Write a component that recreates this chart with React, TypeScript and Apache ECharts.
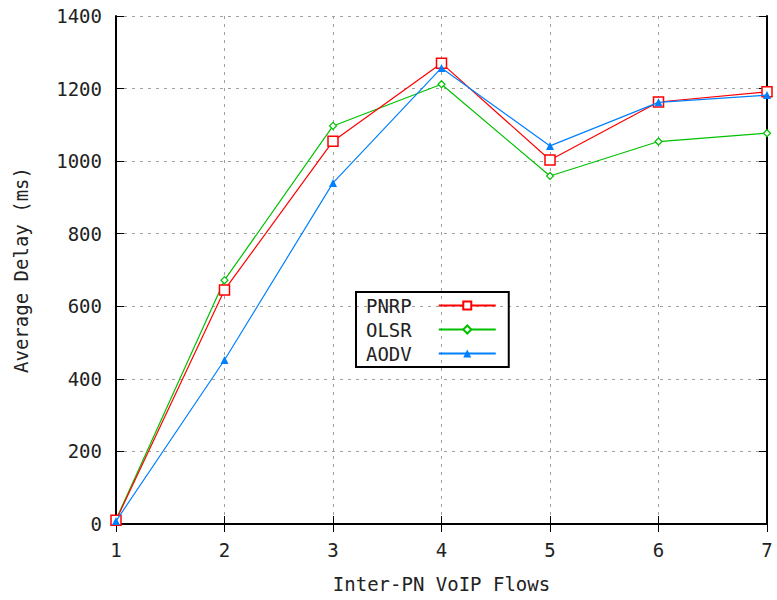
import React, { useEffect, useRef } from "react";
import * as echarts from "echarts";

const flows = ["1", "2", "3", "4", "5", "6", "7"];
const pnrp = [10, 645, 1055, 1270, 1003, 1163, 1191];
const olsr = [12, 672, 1097, 1212, 959, 1054, 1077];
const aodv = [8, 452, 940, 1257, 1042, 1162, 1182];
const yTicks = { min: 0, max: 1400, interval: 200 };

const FONT = "DejaVu Sans Mono";

export default function App() {
  const ref = useRef<HTMLDivElement>(null);
  useEffect(() => {
    const chart = echarts.init(ref.current!, null, { renderer: "svg" });
    const grid = { color: "#a0a0a0", type: [3, 5] as number[], width: 1 };
    const label = { fontFamily: FONT, fontSize: 19, color: "#222" };
    chart.setOption({
      animation: false,
      backgroundColor: "#fff",
      grid: { left: 116, right: 10, top: 16, bottom: 76 },
      legend: {
        orient: "vertical",
        left: 356,
        top: 292,
        align: "right",
        borderColor: "#000",
        borderWidth: 2,
        padding: [4, 12, 4, 10],
        itemGap: 5,
        itemWidth: 57,
        itemHeight: 10,
        textStyle: { ...label, padding: [0, 22, 0, 0], lineHeight: 19 },
        data: ["PNRP", "OLSR", "AODV"],
      },
      xAxis: [
        {
          type: "category",
          data: flows,
          boundaryGap: false,
          name: "Inter-PN VoIP Flows",
          nameLocation: "middle",
          nameGap: 50,
          nameTextStyle: label,
          axisLine: { lineStyle: { color: "#000", width: 2 } },
          axisTick: { inside: true, length: 8, lineStyle: { color: "#000" } },
          axisLabel: { ...label, margin: 16 },
          splitLine: { show: true, lineStyle: grid },
        },
        {
          type: "category",
          data: flows,
          boundaryGap: false,
          position: "top",
          axisLine: { lineStyle: { color: "#000", width: 2 } },
          axisTick: { inside: true, length: 8, lineStyle: { color: "#000" } },
          axisLabel: { show: false },
          splitLine: { show: false },
        },
      ],
      yAxis: [
        {
          type: "value",
          ...yTicks,
          name: "Average Delay (ms)",
          nameLocation: "middle",
          nameGap: 86,
          nameRotate: 90,
          nameTextStyle: label,
          axisLine: { show: true, lineStyle: { color: "#000", width: 2 } },
          axisTick: { show: true, inside: true, length: 8, lineStyle: { color: "#000" } },
          axisLabel: { ...label, margin: 14, formatter: (v: number) => String(v) },
          splitLine: { show: true, lineStyle: grid },
        },
        {
          type: "value",
          ...yTicks,
          position: "right",
          axisLine: { show: true, lineStyle: { color: "#000", width: 2 } },
          axisTick: { show: true, inside: true, length: 8, lineStyle: { color: "#000" } },
          axisLabel: { show: false },
          splitLine: { show: false },
        },
      ],
      series: [
        {
          name: "PNRP",
          type: "line",
          data: pnrp,
          symbol: "rect",
          symbolSize: 10,
          lineStyle: { width: 1.2, color: "#ff0000" },
          itemStyle: { color: "#fff", borderColor: "#ff0000", borderWidth: 1.5 },
          z: 4,
        },
        {
          name: "OLSR",
          type: "line",
          data: olsr,
          symbol: "diamond",
          symbolSize: 7,
          lineStyle: { width: 1.2, color: "#00c000" },
          itemStyle: { color: "#fff", borderColor: "#00c000", borderWidth: 1.2 },
          z: 3,
        },
        {
          name: "AODV",
          type: "line",
          data: aodv,
          symbol: "triangle",
          symbolSize: 8,
          lineStyle: { width: 1.2, color: "#0080ff" },
          itemStyle: { color: "#0080ff" },
          z: 5,
        },
      ],
    });
    return () => chart.dispose();
  }, []);
  return <div ref={ref} style={{ width: 777, height: 600, position: "absolute", left: 0, top: 0 }} />;
}
